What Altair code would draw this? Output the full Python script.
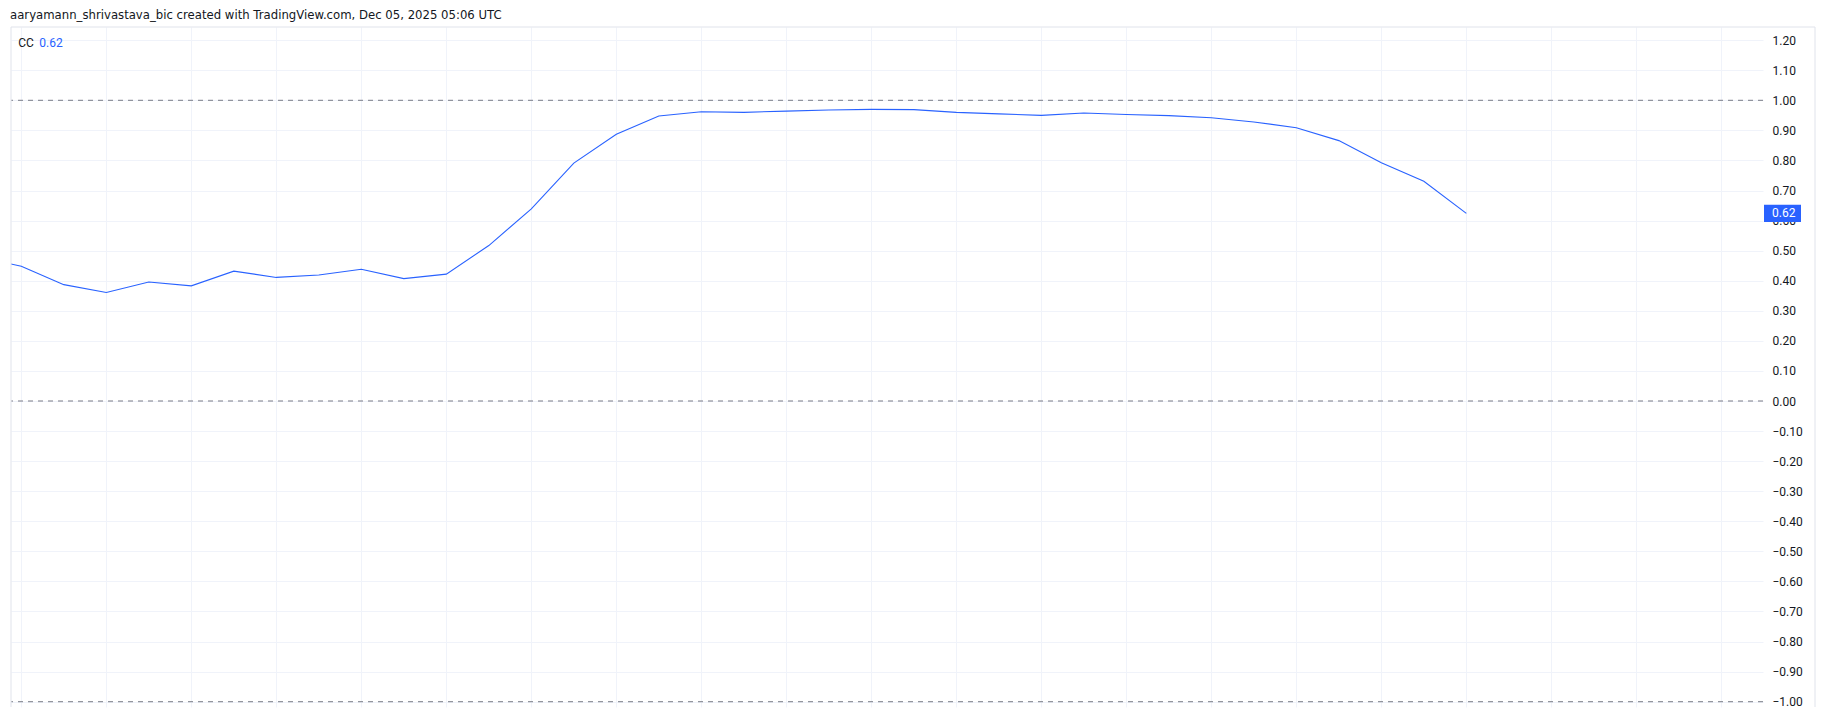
import altair as alt
import pandas as pd

# ---- data ----
bar_index = list(range(-1, 35))
cc_values = [0.48, 0.448, 0.387, 0.361, 0.396, 0.383, 0.432, 0.411, 0.419, 0.438,
             0.407, 0.422, 0.517, 0.639, 0.791, 0.887, 0.948, 0.962, 0.960, 0.964,
             0.968, 0.970, 0.969, 0.960, 0.955, 0.950, 0.958, 0.953, 0.949, 0.942,
             0.928, 0.909, 0.866, 0.792, 0.731, 0.624]
y_ticks = [1.2, 1.1, 1.0, 0.9, 0.8, 0.7, 0.6, 0.5, 0.4, 0.3, 0.2, 0.1, 0.0,
           -0.1, -0.2, -0.3, -0.4, -0.5, -0.6, -0.7, -0.8, -0.9, -1.0]
x_grid = list(range(0, 41, 2))
level_lines = [1.0, 0.0, -1.0]
header_text = "aaryamann_shrivastava_bic created with TradingView.com, Dec 05, 2025 05:06 UTC"
indicator_name = "CC"
last_label = "0.62"

W, H = 1752, 680
FONT = "Roboto"
BLUE = "#2962ff"
GRID = "#f0f3fa"
TEXT = "#131722"

df = pd.DataFrame({"bar": bar_index, "cc": cc_values})
levels = pd.DataFrame({"cc": level_lines})
last = pd.DataFrame({"cc": [cc_values[-1]], "label": [last_label]})

xscale = alt.Scale(domain=[-0.2424, 40.98], nice=False, zero=False)
yscale = alt.Scale(domain=[-1.0176, 1.2438], nice=False, zero=False)

yaxis = alt.Axis(orient="right", values=y_ticks, grid=True, gridColor=GRID,
                 domain=False, ticks=False, labelPadding=9, labelAlign="left",
                 labelBaseline="middle", labelFont=FONT, labelFontSize=12,
                 labelColor=TEXT, labelOverlap=False, title=None,
                 labelExpr="replace(format(datum.value, '.2f'), '-', '\u2212')")
Y = alt.Y("cc:Q", scale=yscale, axis=yaxis)

line = alt.Chart(df).mark_line(color=BLUE, strokeWidth=1.1, clip=True).encode(
    x=alt.X("bar:Q", scale=xscale,
            axis=alt.Axis(values=x_grid, grid=True, gridColor=GRID, labels=False,
                          ticks=False, domain=False, title=None)),
    y=Y,
)

dashed = alt.Chart(levels).mark_rule(color="#787b86", strokeWidth=1, strokeDash=[5, 5]).encode(
    y=Y
)

box = alt.Chart(last).mark_point(
    shape="M-1,-0.46L1,-0.46L1,0.46L-1,0.46Z", filled=True, size=1369,
    color=BLUE, opacity=1, strokeWidth=0
).encode(x=alt.value(1771.5), y=Y)

box_text = alt.Chart(last).mark_text(
    align="left", baseline="middle", color="white", font=FONT, fontSize=12
).encode(x=alt.value(1761), y=Y, text="label:N")

border_color = "#e0e3eb"
top_border = alt.Chart(last).mark_rule(color=border_color).encode(
    x=alt.value(0), x2=alt.value(1804), y=alt.value(0))
left_border = alt.Chart(last).mark_rule(color=border_color).encode(
    x=alt.value(0), y=alt.value(0), y2=alt.value(H))
right_border = alt.Chart(last).mark_rule(color=border_color).encode(
    x=alt.value(1804), y=alt.value(0), y2=alt.value(H))

header = alt.Chart(last).mark_text(
    align="left", baseline="alphabetic", color=TEXT, font="DejaVu Sans", fontSize=11.7
).encode(x=alt.value(-1), y=alt.value(-8.2), text=alt.value(header_text))

cc_name = alt.Chart(last).mark_text(
    align="left", baseline="alphabetic", color=TEXT, font=FONT, fontSize=12
).encode(x=alt.value(7.3), y=alt.value(19.7), text=alt.value(indicator_name))

cc_val = alt.Chart(last).mark_text(
    align="left", baseline="alphabetic", color=BLUE, font=FONT, fontSize=12
).encode(x=alt.value(28.3), y=alt.value(19.7), text="label:N")

chart = alt.layer(
    line, dashed, top_border, left_border, right_border, box, box_text,
    header, cc_name, cc_val
).properties(
    width=W, height=H,
    autosize=alt.AutoSizeParams(type="none"),
    padding={"left": 3, "top": 19, "right": 54, "bottom": 1},
    background="white",
).configure_view(stroke=None)

chart.save("out.html", embed_options={"renderer": "svg", "actions": False})
